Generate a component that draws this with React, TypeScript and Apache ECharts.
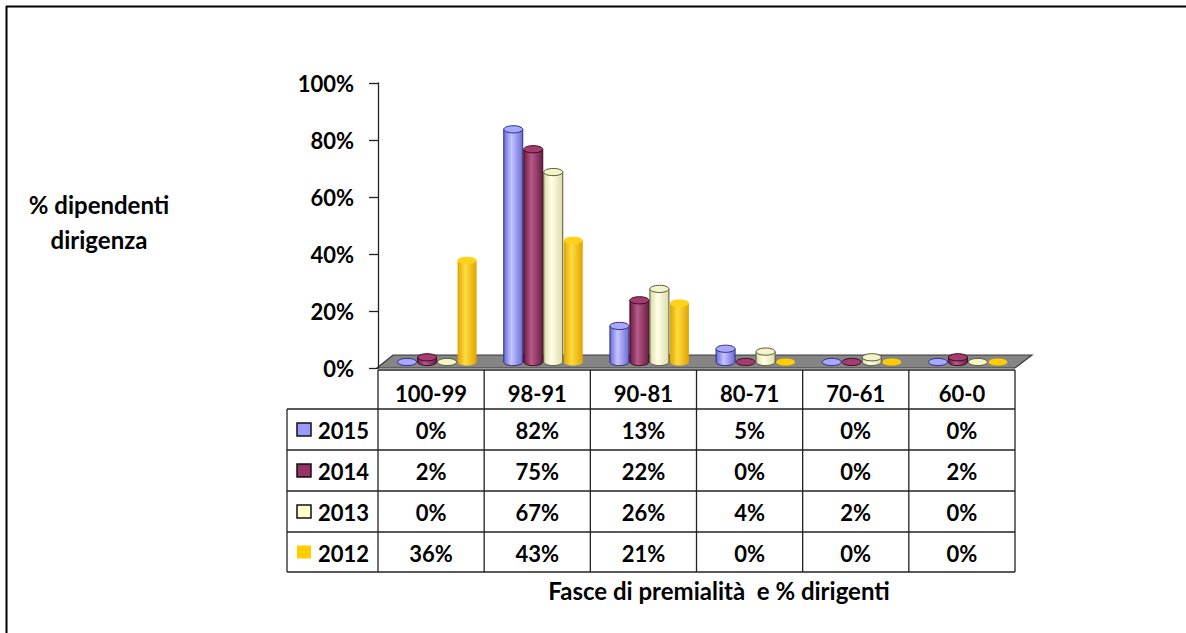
import React, { useEffect, useRef } from "react";
import * as echarts from "echarts";

const categories = ["100-99", "98-91", "90-81", "80-71", "70-61", "60-0"];
const years = ["2015", "2014", "2013", "2012"];
const values2015 = [0, 82, 13, 5, 0, 0];
const values2014 = [2, 75, 22, 0, 0, 2];
const values2013 = [0, 67, 26, 4, 2, 0];
const values2012 = [36, 43, 21, 0, 0, 0];
const seriesValues = [values2015, values2014, values2013, values2012];
const yTicks = [0, 20, 40, 60, 80, 100];
const yTitle = "% dipendenti\ndirigenza";
const xTitle = "Fasce di premialità  e % dirigenti";

const palette = [
  { base: "#9999FF", dark: "#6b6bd6", light: "#c4c4ff", top: "#a8a8ff", stroke: "#2e2e80" },
  { base: "#993366", dark: "#6a1d43", light: "#b85a8a", top: "#a33d70", stroke: "#3d0a22" },
  { base: "#FFFFCC", dark: "#dcdcaa", light: "#ffffe8", top: "#f4f4c8", stroke: "#55553a" },
  { base: "#FFCC00", dark: "#e0a400", light: "#ffdc40", top: "#ffd21a", stroke: null },
];

const FONT = "Lato";
const GRID_L = 378;
const GRID_R = 1015;
const GRID_T = 83;
const GRID_B = 368;
const W = 1186;
const H = 633;

export default function App() {
  const ref = useRef<HTMLDivElement>(null);
  useEffect(() => {
    if (!ref.current) return;
    const chart = echarts.init(ref.current, null, { renderer: "svg" });

    const colW = (GRID_R - GRID_L) / categories.length;
    const headerTop = 370;
    const rowTops = [409, 450, 491, 532];
    const tableBottom = 572;
    const tableLeft = 287;

    const g: any[] = [];
    // outer frame (top and left edges)
    g.push({ type: "line", shape: { x1: 6, y1: 6.5, x2: W, y2: 6.5 }, style: { stroke: "#000", lineWidth: 2 } });
    g.push({ type: "line", shape: { x1: 6.5, y1: 6, x2: 6.5, y2: H }, style: { stroke: "#000", lineWidth: 2 } });
    // floor
    g.push({
      type: "polygon",
      shape: { points: [[GRID_L - 1, GRID_B], [GRID_R, GRID_B], [GRID_R + 17, GRID_B - 13], [GRID_L + 15, GRID_B - 13]] },
      style: { fill: "#858585", stroke: "#3a3a3a", lineWidth: 1.2 },
      z: 0,
    });
    // table lines
    const lineStyle = { stroke: "#222", lineWidth: 1.3 };
    g.push({ type: "line", shape: { x1: GRID_L, y1: headerTop, x2: GRID_R, y2: headerTop }, style: lineStyle });
    [...rowTops, tableBottom].forEach((y) =>
      g.push({ type: "line", shape: { x1: tableLeft, y1: y, x2: GRID_R, y2: y }, style: lineStyle })
    );
    g.push({ type: "line", shape: { x1: tableLeft, y1: rowTops[0], x2: tableLeft, y2: tableBottom }, style: lineStyle });
    for (let i = 0; i <= categories.length; i++) {
      const x = GRID_L + i * colW;
      g.push({ type: "line", shape: { x1: x, y1: headerTop, x2: x, y2: tableBottom }, style: lineStyle });
    }
    // table contents
    const textStyle = { fontFamily: FONT, fontWeight: "bold", fontSize: 22, fill: "#000" };
    const titleStyle = { ...textStyle, fontSize: 24 };
    years.forEach((yr, r) => {
      const top = rowTops[r];
      const bottom = r + 1 < rowTops.length ? rowTops[r + 1] : tableBottom;
      const mid = (top + bottom) / 2;
      const p = palette[r];
      g.push({
        type: "rect",
        shape: { x: 297, y: mid - 6.5, width: 14, height: 13 },
        style: { fill: p.base, stroke: p.stroke ? "#111" : p.base, lineWidth: p.stroke ? 1.5 : 0 },
      });
      g.push({
        type: "text",
        x: 318,
        y: mid + 1,
        style: { ...textStyle, text: yr, textAlign: "left", textVerticalAlign: "middle" },
      });
      seriesValues[r].forEach((v, i) => {
        g.push({
          type: "text",
          x: GRID_L + (i + 0.5) * colW,
          y: mid + 1,
          style: { ...textStyle, text: `${v}%`, textAlign: "center", textVerticalAlign: "middle" },
        });
      });
    });
    // titles
    g.push({
      type: "text",
      x: 719,
      y: 590,
      style: { ...titleStyle, text: xTitle, textAlign: "center", textVerticalAlign: "middle" },
    });
    g.push({
      type: "text",
      x: 99,
      y: 222,
      style: { ...titleStyle, text: yTitle, textAlign: "center", textVerticalAlign: "middle", lineHeight: 35 },
    });

    const makeSeries = (vals: number[], si: number) => ({
      type: "custom",
      name: years[si],
      z: 3 + si,
      data: vals.map((v, i) => [i, v]),
      encode: { x: 0, y: 1 },
      renderItem: (params: any, api: any) => {
        const cat = api.value(0);
        const v = api.value(1);
        const base = api.coord([cat, 0]);
        const top = api.coord([cat, v]);
        const p = palette[si];
        const cx = base[0] + 6 + (si - 1.5) * 20;
        const yb = base[1] - 6;
        const yt = top[1] - 5;
        const rx = 9.5;
        const ry = 3.6;
        const grad = new echarts.graphic.LinearGradient(0, 0, 1, 0, [
          { offset: 0, color: p.dark },
          { offset: 0.4, color: p.light },
          { offset: 1, color: p.dark },
        ]);
        const strokeC = p.stroke || p.dark;
        const strokeW = p.stroke ? 1 : 0;
        if (v === 0) {
          return {
            type: "ellipse",
            shape: { cx, cy: yb, rx, ry },
            style: { fill: p.stroke ? p.top : p.base, stroke: p.stroke ? strokeC : null, lineWidth: strokeW },
          };
        }
        return {
          type: "group",
          children: [
            { type: "ellipse", shape: { cx, cy: yb, rx, ry }, style: { fill: grad, stroke: strokeC, lineWidth: strokeW } },
            { type: "rect", shape: { x: cx - rx, y: yt, width: rx * 2, height: yb - yt }, style: { fill: grad } },
            { type: "line", shape: { x1: cx - rx, y1: yt, x2: cx - rx, y2: yb }, style: { stroke: strokeC, lineWidth: strokeW } },
            { type: "line", shape: { x1: cx + rx, y1: yt, x2: cx + rx, y2: yb }, style: { stroke: strokeC, lineWidth: strokeW } },
            { type: "ellipse", shape: { cx, cy: yt, rx, ry }, style: { fill: p.top, stroke: strokeC, lineWidth: strokeW } },
          ],
        };
      },
    });

    chart.setOption({
      animation: false,
      backgroundColor: "#fff",
      grid: { left: GRID_L, right: W - GRID_R, top: GRID_T, bottom: H - GRID_B, containLabel: false },
      xAxis: {
        type: "category",
        data: categories,
        axisLine: { show: false },
        axisTick: { show: false },
        axisLabel: {
          margin: 25,
          verticalAlign: "middle",
          fontFamily: FONT,
          fontWeight: "bold",
          fontSize: 22,
          color: "#000",
        },
      },
      yAxis: {
        type: "value",
        min: yTicks[0],
        max: yTicks[yTicks.length - 1],
        interval: yTicks[1] - yTicks[0],
        axisLine: { show: true, lineStyle: { color: "#222", width: 1.3 } },
        axisTick: { show: true, length: 9, lineStyle: { color: "#222", width: 1.3 } },
        splitLine: { show: false },
        axisLabel: {
          margin: 24,
          formatter: "{value}%",
          fontFamily: FONT,
          fontWeight: "bold",
          fontSize: 22,
          color: "#000",
        },
      },
      graphic: { elements: g },
      series: seriesValues.map((vals, si) => makeSeries(vals, si)),
    });

    return () => chart.dispose();
  }, []);

  return <div ref={ref} style={{ position: "absolute", left: 0, top: 0, width: W, height: H }} />;
}
